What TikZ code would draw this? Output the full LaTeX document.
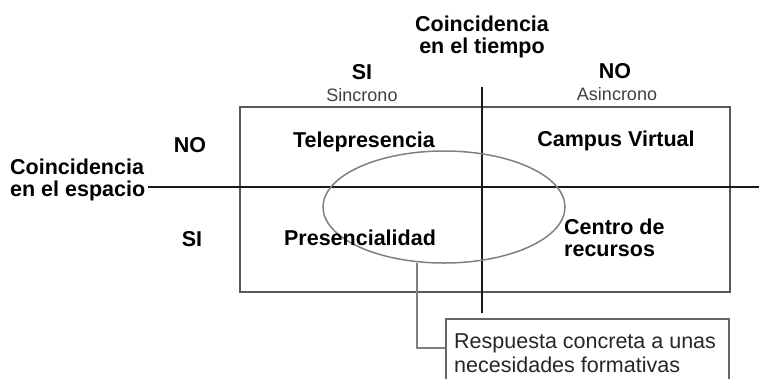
\documentclass[tikz,border=0pt]{standalone}
\usepackage{fontspec}
\usetikzlibrary{shapes.geometric}
\setmainfont{Liberation Sans}
\begin{document}
\begin{tikzpicture}[x=1pt,y=-1pt,
  big/.style={font=\fontsize{21.5}{22}\selectfont\bfseries,inner sep=0pt,align=center},
  small/.style={font=\fontsize{18}{18}\selectfont,text=black!75,inner sep=0pt},
  note/.style={font=\fontsize{21.5}{24}\selectfont,inner sep=0pt,align=left,text=black!85},
  axis/.style={line width=1.8pt,black!90},
  frame/.style={line width=2pt,black!65},
  ring/.style={line width=1.5pt,black!50}]
\useasboundingbox (0,0) rectangle (759,378);
\begin{scope}
\clip (0,0) rectangle (759,378);
% quadrant frame
\draw[frame] (240,107) rectangle (730,292);
% axes
\coordinate (hl) at (148,187);
\coordinate (hr) at (759,187);
\coordinate (vt) at (482,87);
\coordinate (vb) at (482,313);
\draw[axis] (hl) -- (hr);
\draw[axis] (vt) -- (vb);
% ellipse
\node[ring,draw,ellipse,minimum width=242pt,minimum height=112pt,inner sep=0pt] (ell) at (444,207) {};
% callout
\node[draw,line width=1.8pt,black!60,minimum width=283pt,minimum height=80pt,anchor=north west,inner sep=0pt] (box) at (445,318) {};
\coordinate (cb) at (417,263);
\draw[ring] (cb) |- (box.west |- 0,348);
\end{scope}
% labels
\node[big] (ct) at (482,37) {Coincidencia\\en el tiempo};
\node[big] (si1) at (362,72) {SI};
\node[small] (sin) at (362,95) {Sincrono};
\node[big] (no1) at (615,71) {NO};
\node[small] (asin) at (617,94) {Asincrono};
\node[big] (no2) at (190,145) {NO};
\node[big] (si2) at (192,239) {SI};
\node[big,anchor=west,align=left] (ce) at (10,180) {Coincidencia\\en el espacio};
\node[big] (tel) at (364,142) {Telepresencia};
\node[big] (cam) at (616,141) {Campus Virtual};
\node[big] (pre) at (360,238) {Presencialidad};
\node[big,anchor=west,align=left] (cen) at (564,238) {Centro de\\recursos};
\node[note,anchor=west] (resp) at (454,353) {Respuesta concreta a unas\\necesidades formativas};
\end{tikzpicture}
\end{document}
